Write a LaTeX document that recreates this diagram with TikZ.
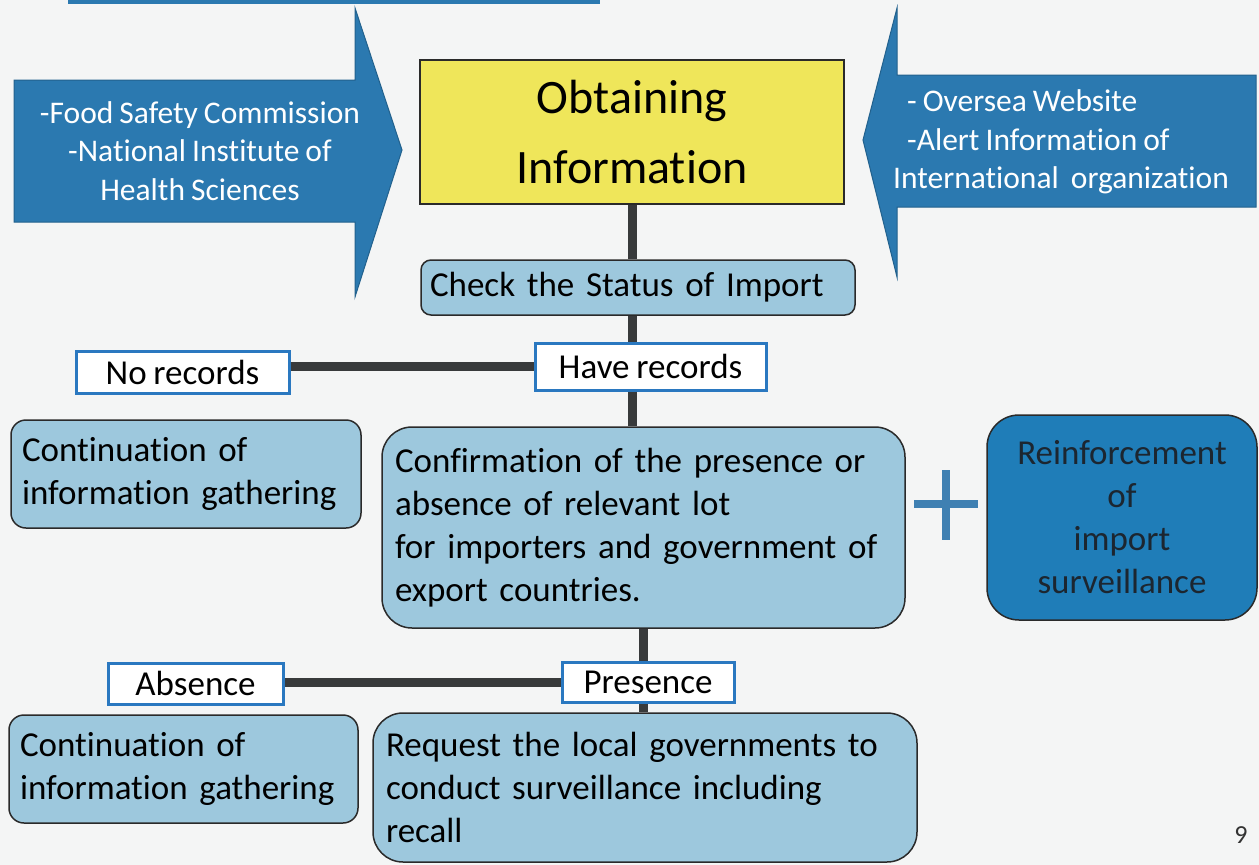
\documentclass[tikz,border=0pt]{standalone}
\usepackage{fontspec}
\setmainfont{Carlito}[Ligatures=NoCommon, WordSpace=0.85]
\definecolor{bgc}{HTML}{F4F5F5}
\definecolor{lightbox}{HTML}{9DC8DD}
\definecolor{arrowblue}{HTML}{2B79B0}
\definecolor{darkbox}{HTML}{1F7DB8}
\definecolor{lblblue}{HTML}{2A78C0}
\definecolor{boxline}{HTML}{2A2A2A}
\definecolor{connc}{HTML}{383A3B}
\definecolor{yellowbox}{HTML}{EFE65A}
\definecolor{plusc}{HTML}{3F80B2}
\definecolor{darktext}{HTML}{1C2630}
\tikzset{
  box/.style={draw=boxline, line width=1.5pt, fill=lightbox, inner sep=0pt},
  lbl/.style={draw=lblblue, line width=3pt, fill=white, inner sep=0pt, font=\fontsize{35}{43}\selectfont},
  conn/.style={draw=connc, line width=9pt},
  bodytxt/.style={font=\fontsize{35}{43}\selectfont, text=black},
  arrowshape/.style={fill=arrowblue, draw=arrowblue!80!black, line width=1pt},
  arrowtxt/.style={font=\fontsize{31.5}{38.5}\selectfont, text=white, inner sep=0pt}
}
\begin{document}
\begin{tikzpicture}[x=1pt,y=-1pt]
\useasboundingbox (0,0) rectangle (1259,865);
\fill[bgc] (0,0) rectangle (1259,865);
% title bar remnant
\fill[arrowblue] (68,0) rectangle (600,4);
% side arrows
\path[arrowshape] (14,80) -- (355,80) -- (355,8) -- (402,150) -- (355,297) -- (355,222) -- (14,222) -- cycle;
\node[arrowtxt, align=center] (srcl) at (200,151) {-Food Safety Commission\\-National Institute of\\Health Sciences};
\path[arrowshape] (1256,75) -- (897,75) -- (897,8) -- (863,140) -- (897,277) -- (897,207) -- (1256,207) -- cycle;
\node[arrowtxt, align=left, anchor=west] (srcr) at (893,142) {\hspace{14pt}- Oversea Website\\\hspace{14pt}-Alert Information of\\International\ \ organization};
% main boxes
\node[draw=boxline, line width=1.5pt, fill=yellowbox, minimum width=424pt, minimum height=144pt, inner sep=0pt, align=center, font=\fontsize{48}{70}\selectfont] (obtain) at (632,132) {Obtaining\\Information};
\node[box, rounded corners=10pt, minimum width=434pt, minimum height=55pt, text width=416pt, inner xsep=9pt, align=left, bodytxt] (check) at (638,287.5) {Check the Status of Import};
\node[lbl, minimum width=231pt, minimum height=47pt] (have) at (650.5,366.5) {Have records};
\node[lbl, minimum width=213pt, minimum height=42pt] (norec) at (182.5,372) {No records};
\node[box, rounded corners=15pt, minimum width=350pt, minimum height=108pt, text width=328pt, inner xsep=11pt, align=left, bodytxt] (cont1) at (186,474) {Continuation of\\information gathering};
\node[box, rounded corners=30pt, minimum width=523pt, minimum height=201pt, text width=497pt, inner xsep=13pt, align=left, bodytxt] (conf) at (643.5,527.5) {Confirmation of the presence or\\absence of relevant lot\\for importers and government of\\export countries.};
\node[box, fill=darkbox, rounded corners=32pt, minimum width=270pt, minimum height=205pt, align=center, bodytxt, text=darktext] (reinf) at (1122,517.5) {Reinforcement\\of\\import\\surveillance};
\node[lbl, minimum width=175pt, minimum height=41pt] (absence) at (195.5,683.5) {Absence};
\node[lbl, minimum width=172pt, minimum height=40pt] (presence) at (648,682) {Presence};
\node[box, rounded corners=15pt, minimum width=349pt, minimum height=108pt, text width=327pt, inner xsep=11pt, align=left, bodytxt] (cont2) at (183.5,769) {Continuation of\\information gathering};
\node[box, rounded corners=30pt, minimum width=544pt, minimum height=149pt, text width=518pt, inner xsep=13pt, align=left, bodytxt] (request) at (645,787.5) {Request the local governments to\\conduct surveillance including\\recall};
% plus sign
\node[fill=plusc, minimum width=64pt, minimum height=8pt, inner sep=0pt] (plush) at (946,504) {};
\node[fill=plusc, minimum width=8pt, minimum height=70pt, inner sep=0pt] (plusv) at (946,505) {};
% page number
\node[font=\fontsize{26}{30}\selectfont, text=black!80] (pnum) at (1241,835) {9};
% connectors
\coordinate (upx) at (632,0);
\coordinate (lowx) at (643,0);
\draw[conn] (obtain.south -| upx) -- (check.north -| upx);
\draw[conn] (check.south -| upx) -- (have.north -| upx);
\draw[conn] (have.south -| upx) -- (conf.north -| upx);
\draw[conn] (have.west) -- (have.west -| norec.east);
\draw[conn] (conf.south -| lowx) -- (presence.north -| lowx);
\draw[conn] (presence.south -| lowx) -- (request.north -| lowx);
\draw[conn] (presence.west) -- (presence.west -| absence.east);
\end{tikzpicture}
\end{document}
